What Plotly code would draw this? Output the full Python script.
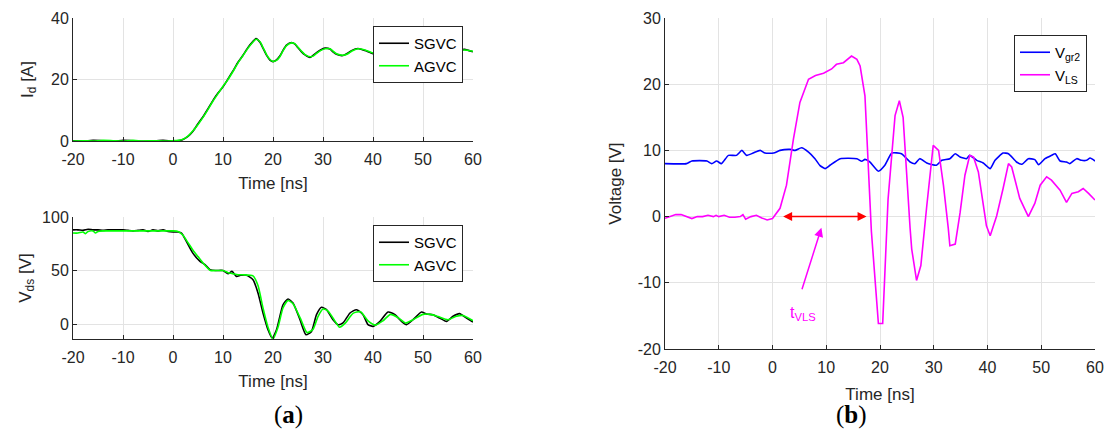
import plotly.graph_objects as go

# ---------------- data ----------------
# (a) top: drain current Id [A]
t_id = [-20, -18, -16, -14, -12, -10, -8, -6, -4, -2, 0, 1, 2, 3, 4, 5, 6, 7, 8, 9, 10, 11, 12, 13, 14, 15, 16,
        16.6, 17.4, 18, 18.7, 19.4, 20, 20.7, 21.4, 22, 22.7, 23.7, 24.4, 25, 25.7, 26.4, 27.4, 28, 28.7, 29.5,
        30.4, 31.4, 32, 32.7, 34, 35, 35.7, 37, 38.4, 40, 42, 44, 46, 48, 50, 52, 54, 56, 58.3, 60]
id_sgvc = [0.1, 0.0, 0.2, 0.1, -0.1, 0.2, 0.1, -0.1, 0.0, 0.2, 0.0, 0.1, 0.5, 1.5, 3.2, 5.6, 7.9, 10.5, 13.2,
           15.6, 17.6, 20.2, 22.8, 25.6, 27.9, 30.4, 32.4, 33.3, 32.1, 30.2, 27.9, 26.3, 25.8, 26.4, 27.7, 29.5,
           31.2, 32.0, 31.5, 30.3, 29.0, 28.0, 27.2, 27.8, 28.7, 29.6, 30.2, 29.9, 29.0, 28.2, 27.8, 28.6, 29.4,
           30.1, 29.4, 28.4, 28.6, 29.4, 29.9, 29.2, 28.7, 29.2, 29.6, 29.2, 29.8, 29.0]
id_agvc = [0.0, 0.1, 0.0, 0.2, 0.1, 0.0, 0.2, 0.0, 0.1, 0.0, 0.1, 0.2, 0.6, 1.6, 3.3, 5.4, 7.7, 10.3, 13.0,
           15.4, 17.8, 20.0, 22.6, 25.4, 27.8, 30.2, 32.2, 33.1, 32.3, 30.4, 28.1, 26.5, 25.9, 26.2, 27.5, 29.3,
           31.0, 31.9, 31.6, 30.5, 29.2, 28.1, 27.4, 27.6, 28.5, 29.4, 30.0, 30.0, 29.2, 28.4, 27.9, 28.4, 29.2,
           30.0, 29.6, 28.6, 28.4, 29.2, 29.8, 29.4, 28.9, 29.0, 29.5, 29.3, 29.6, 29.2]

# (a) bottom: drain-source voltage Vds [V]
t_vds_s = [-20, -19, -18, -17, -16, -15, -14, -13, -12, -11, -10, -9, -8, -7, -6, -5, -4, -3, -2, -1, 0,
           1, 1.7, 2.7, 4, 5.4, 6.4, 7.4, 8.5, 10, 11, 11.8, 12.7, 13.5, 14.7, 16, 17, 18, 19, 19.8,
           20.7, 22, 23, 24, 25.4, 26.6, 27.7, 28.7, 29.7, 30.7, 32, 33, 34, 35.4, 36.7, 38, 39, 40, 41.4, 43,
           44.4, 45.7, 46.7, 48, 49.7, 50.7, 52, 53.3, 54.7, 56, 57.3, 58.7, 60]
vds_sgvc = [88, 88, 87.5, 88.5, 88, 88, 87.5, 88, 88, 88, 88, 87.5, 87, 87.5, 88, 86.5, 88, 87, 88, 86.5, 86,
            86, 85, 77, 66, 58.6, 55.5, 50.8, 50, 50, 47, 49.2, 44.5, 45.5, 45.5, 41.4, 29, 10.3, -5.3, -13,
            -5.3, 18, 23.4, 19.6, 4, -10, -6.9, 8.7, 15.6, 13.4, 4, -0.6, 1, 10.3, 13.4, 8.7, -0.6, -2.2, 2.5, 11.2,
            8.7, 2.5, -0.6, 4, 11.2, 9.3, 8.7, 5.6, 2.5, 7.2, 9.7, 5.6, 1.9]
t_vds_a = [-20, -19, -18, -17.5, -17, -16, -15.5, -15, -14, -13, -10, -7, -5, -3, -1, 0, 1, 2, 3, 4,
           5, 6, 7, 7.5, 10, 11, 12, 13, 14, 16, 17, 18, 19, 20, 21, 22, 23, 24, 25.5, 26.8,
           28, 29, 30, 31, 32.5, 33.3, 34.5, 36, 37.5, 39, 40.5, 42, 43.5, 45, 46.5, 48, 50, 51.5, 53, 55,
           56.5, 58, 60]
vds_agvc = [85, 85, 86, 84.5, 86.5, 87, 85, 86.5, 87, 87, 87, 87, 87, 87, 87, 87, 86.5, 83, 76, 69,
            63, 57, 52, 50, 50, 48, 47, 46, 46, 45, 36, 15, -3, -14, -3, 15, 22, 19, 5, -8,
            -5, 7, 14, 12, 2, -3, 1, 10, 11.5, 3, -1, 3, 9, 6, 1, 4, 9, 9, 7, 4,
            7, 8, 3]

# (b) gate voltage Vgr2 and VLS [V]
t_gr = [-20, -16, -15, -12.2, -11.3, -10.4, -9.5, -8.2, -6.7, -5.7, -4.8, -3.6, -2.3, -1.4, 0.2, 1.4, 3.3, 4.2,
        5.4, 6.7, 7.9, 8.8, 9.8, 10.7, 12.6, 15.7, 16.6, 17.2, 18.1, 19.7, 20.9, 22.2, 24, 25.6, 26.5, 27.4,
        28.7, 30.5, 31.5, 33, 34, 34.9, 36.1, 36.7, 38, 39.2, 40.5, 41.4, 42.9, 43.9, 45.4, 46.4, 47.6, 48.8,
        49.5, 50.7, 51.9, 52.6, 53.5, 54.7, 55.3, 56.6, 57.5, 58.4, 59.1, 60]
v_gr2 = [8, 8, 8.4, 8.4, 8, 8.4, 8, 9.25, 9.25, 10, 9.25, 9.6, 10, 9.6, 9.6, 10, 10.15, 10, 10.4, 9.75,
         8.75, 7.75, 7.25, 7.75, 8.75, 8.75, 8.35, 8.65, 8.25, 6.85, 7.75, 9.6, 9.5, 8.25, 8, 8.75, 8.1, 7.75,
         8.5, 8.75, 9.5, 9, 8.75, 9.25, 8.5, 8.1, 7.25, 8.5, 9.6, 9.5, 8.25, 7.9, 8.75, 8.6, 7.85, 8.75, 9.25,
         9.5, 8.4, 8.25, 8, 8.75, 8.5, 8.5, 8.85, 8.4]
t_ls = [-20, -19, -18, -17, -16, -15, -14, -13, -12, -11, -10.5, -10, -9, -8, -7, -6, -5.5, -5, -4, -3,
        -2, -1, 0, 1.4, 2.6, 3.9, 5.1, 6.7, 8, 9.5, 11, 11.9, 13.2, 14.7, 15.7, 16.3, 17.2, 17.8, 18.4, 19.7,
        20.5, 21.5, 22.8, 23.6, 24.3, 25.6, 25.9, 26.8, 27.6, 28.7, 29.9, 30.9, 31.8, 32.7, 33, 34, 34.9, 35.8,
        36.7, 37.4, 38.3, 39.5, 39.8, 40.5, 41.7, 42.9, 43.9, 44.5, 46, 47.6, 48.8, 49.8, 51, 51.9, 53.5, 54.7,
        55.7, 56.9, 57.8, 58.8, 60]
v_ls = [-0.25, 0, 0.3, 0.3, 0, -0.3, 0, 0, 0.2, 0, 0.2, 0, 0.2, -0.1, -0.1, 0, 0.3, -0.4, 0, 0.2,
        -0.2, -0.5, -0.3, 1.25, 4.75, 11.75, 17.25, 20.75, 21.3, 21.65, 22.3, 23, 23.25, 24.25, 23.75, 22.75,
        18.25, 8.75, -2.25, -16.15, -16.15, 2.6, 15.25, 17.5, 15, -1.75, -4.9, -9.65, -7.4, 1.6, 10.75, 10,
        4.75, -1.75, -4.4, -4.15, 0.6, 6.25, 9.25, 9, 6.75, 0.25, -1.4, -2.9, 0.1, 4.25, 8, 7.5, 2.75, 0, 2,
        4.75, 6, 5.5, 4, 2.15, 3.5, 3.75, 4.25, 3.5, 2.5]

# annotation data for t_VLS
tvls_start, tvls_end = 1.7, 17.5
tvls_label = (5.7, -14.6)
tvls_arrow_tail = (5.4, -11.2)
tvls_arrow_head = (9.1, -1.7)

# tick labels (hyphen minus as in the original)
x_ticks = [-20, -10, 0, 10, 20, 30, 40, 50, 60]
x_ticktext = ["-20", "-10", "0", "10", "20", "30", "40", "50", "60"]
id_ticks = [0, 20, 40]
vds_ticks = [0, 50, 100]
v_ticks = [-20, -10, 0, 10, 20, 30]
v_ticktext = ["-20", "-10", "0", "10", "20", "30"]

# ---------------- figure ----------------
FONT = "Liberation Sans, Arial, sans-serif"
AX = "#262626"
GRID = "#e3e3e3"

fig = go.Figure()

fig.add_trace(go.Scatter(x=t_id, y=id_sgvc, name="SGVC", mode="lines", line=dict(color="#000000", width=1.6, shape="spline", smoothing=0.6),
                         xaxis="x", yaxis="y", legend="legend"))
fig.add_trace(go.Scatter(x=t_id, y=id_agvc, name="AGVC", mode="lines", line=dict(color="#00ff00", width=1.6, shape="spline", smoothing=0.6),
                         xaxis="x", yaxis="y", legend="legend"))
fig.add_trace(go.Scatter(x=t_vds_s, y=vds_sgvc, name="SGVC", mode="lines", line=dict(color="#000000", width=1.6, shape="spline", smoothing=0.6),
                         xaxis="x2", yaxis="y2", legend="legend2"))
fig.add_trace(go.Scatter(x=t_vds_a, y=vds_agvc, name="AGVC", mode="lines", line=dict(color="#00ff00", width=1.6, shape="spline", smoothing=0.6),
                         xaxis="x2", yaxis="y2", legend="legend2"))
fig.add_trace(go.Scatter(x=t_gr, y=v_gr2, name="V<sub>gr2</sub>", mode="lines", line=dict(color="#0000ff", width=1.6, shape="spline", smoothing=0.5),
                         xaxis="x3", yaxis="y3", legend="legend3"))
fig.add_trace(go.Scatter(x=t_ls, y=v_ls, name="V<sub>LS</sub>", mode="lines", line=dict(color="#ff00ff", width=1.6),
                         xaxis="x3", yaxis="y3", legend="legend3"))

W, H = 1107, 446
def px_x(a, b):
    return [a / W, b / W]
def px_y(top, bottom):
    return [1 - bottom / H, 1 - top / H]

TICKFONT = dict(size=16, color=AX, family=FONT)
def xax(domain, anchor, standoff):
    return dict(domain=domain, anchor=anchor, range=[-20, 60], tickvals=x_ticks, ticktext=x_ticktext,
                showgrid=True, gridcolor=GRID, gridwidth=1, automargin=False,
                showline=True, linecolor=AX, linewidth=1, ticks="inside", ticklen=4, tickcolor=AX,
                ticklabelstandoff=4,
                zeroline=False, tickfont=TICKFONT,
                title=dict(text="Time [ns]", font=dict(size=17, color=AX, family=FONT), standoff=standoff))
def yax(domain, anchor, rng, tv, tt, title, standoff):
    return dict(domain=domain, anchor=anchor, range=rng, tickvals=tv, ticktext=tt,
                showgrid=True, gridcolor=GRID, gridwidth=1, automargin=False,
                showline=True, linecolor=AX, linewidth=1, ticks="inside", ticklen=4, tickcolor=AX,
                zeroline=False, tickfont=TICKFONT,
                title=dict(text=title, font=dict(size=17, color=AX, family=FONT), standoff=standoff))

LEG = dict(xanchor="right", yanchor="top", bgcolor="white", bordercolor=AX, borderwidth=1,
           font=dict(size=15, color="#000", family=FONT), tracegroupgap=0, itemwidth=30)

fig.update_layout(
    width=W, height=H,
    template="none",
    margin=dict(l=0, r=0, t=0, b=0),
    paper_bgcolor="white", plot_bgcolor="white",
    font=dict(family=FONT, color=AX),
    xaxis=xax(px_x(73, 473), "y", 9),
    yaxis=yax(px_y(18, 141), "x", [0, 40], id_ticks, [str(v) for v in id_ticks], "I<sub>d</sub> [A]", 13),
    xaxis2=xax(px_x(73, 473), "y2", 9),
    yaxis2=yax(px_y(217, 339), "x2", [-14, 100], vds_ticks, [str(v) for v in vds_ticks], "V<sub>ds</sub> [V]", 6),
    xaxis3=xax(px_x(665, 1095), "y3", 12),
    yaxis3=yax(px_y(18, 349), "x3", [-20, 30], v_ticks, v_ticktext, "Voltage [V]", 11),
    legend=dict(x=463 / W, y=1 - 26 / H, **LEG),
    legend2=dict(x=463 / W, y=1 - 225 / H, **LEG),
    legend3=dict(x=1087 / W, y=1 - 35 / H, **LEG),
    showlegend=True,
)

# red double arrow (t_VLS interval)
fig.add_annotation(x=tvls_end, y=0, ax=tvls_start, ay=0, xref="x3", yref="y3", axref="x3", ayref="y3",
                   text="", showarrow=True, arrowhead=2, arrowside="end+start", arrowsize=1.2,
                   arrowwidth=1.5, arrowcolor="#ff0000")
# magenta pointer arrow
fig.add_annotation(x=tvls_arrow_head[0], y=tvls_arrow_head[1], ax=tvls_arrow_tail[0], ay=tvls_arrow_tail[1],
                   xref="x3", yref="y3", axref="x3", ayref="y3", text="", showarrow=True,
                   arrowhead=2, arrowsize=1.2, arrowwidth=1.5, arrowcolor="#ff00ff")
fig.add_annotation(x=tvls_label[0], y=tvls_label[1], xref="x3", yref="y3", text="t<sub>VLS</sub>",
                   showarrow=False, font=dict(size=16, color="#ff00ff", family=FONT))

# captions
CAP = "Liberation Serif, Times New Roman, serif"
fig.add_annotation(x=272 / W, y=1 - 431 / H, xref="paper", yref="paper", text="(<b>a</b>)", showarrow=False,
                   font=dict(size=25, color="#000", family=CAP))
fig.add_annotation(x=869 / W, y=1 - 431 / H, xref="paper", yref="paper", text="(<b>b</b>)", showarrow=False,
                   font=dict(size=25, color="#000", family=CAP))

fig.write_html("out.html")
